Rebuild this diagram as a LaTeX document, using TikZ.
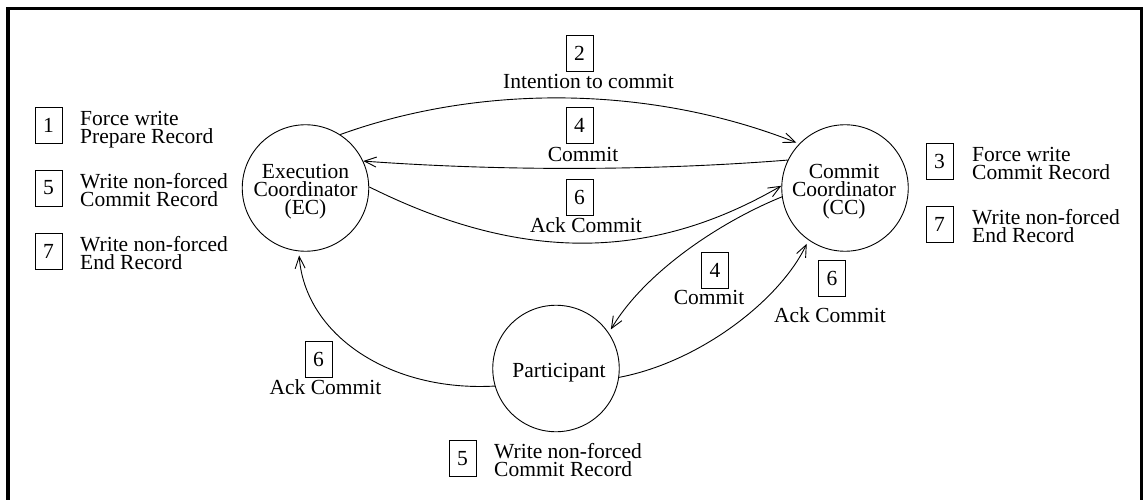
\documentclass[tikz,border=0pt]{standalone}
\usepackage{fontspec}
\setmainfont{Liberation Serif}
\usetikzlibrary{arrows.meta}
% invisible strut fixing the height of a first text line
\newcommand{\capstrut}{\rule{0pt}{15pt}}

\begin{document}
\begin{tikzpicture}[x=1pt, y=-1pt,
  every node/.style={font=\fontsize{21.5}{18}\selectfont},
  state/.style={draw, circle, minimum size=126.5pt, inner sep=0pt, line width=0.9pt},
  statetext/.style={anchor=north, align=center, inner sep=0pt},
  numbox/.style={draw, minimum width=27pt, minimum height=36pt, inner sep=0pt, line width=0.9pt},
  note/.style={anchor=north west, align=left, inner sep=0pt},
  msg/.style={anchor=base, inner sep=0pt},
  flow/.style={line width=0.9pt, -{Straight Barb[length=12pt,width=10pt]}},
]
\useasboundingbox (0,0) rectangle (1144,500);

% outer frame (open at the bottom)
\draw[line width=3.5pt] (8,500) -- (8,8.5) -- (1141.7,8.5) -- (1141.7,500);

% processes
\node[state] (EC) at (305.5,188) {};
\node[statetext] (ECt) at (305.5,163.3) {\capstrut Execution\\Coordinator\\(EC)};
\node[state] (CC) at (845,188) {};
\node[statetext] (CCt) at (844,163.3) {\capstrut Commit\\Coordinator\\(CC)};
\node[state] (P) at (556,368.5) {};
\node[statetext] (Pt) at (559,362) {\capstrut Participant};

% log actions of the execution coordinator
\node[numbox] (n1) at (48.5,125) {1};
\node[note] (t1) at (80,110) {\capstrut Force write\\Prepare Record};
\node[numbox] (n5a) at (48.5,188) {5};
\node[note] (t5a) at (80,173) {\capstrut Write non-forced\\Commit Record};
\node[numbox] (n7a) at (48.5,251) {7};
\node[note] (t7a) at (80,236) {\capstrut Write non-forced\\End Record};

% log actions of the commit coordinator
\node[numbox] (n3) at (939.5,161) {3};
\node[note] (t3) at (972,146) {\capstrut Force write\\Commit Record};
\node[numbox] (n7b) at (939.5,224) {7};
\node[note] (t7b) at (972,209) {\capstrut Write non-forced\\End Record};

% log action of the participant
\node[numbox] (n5b) at (462.5,458.5) {5};
\node[note] (t5b) at (494,443) {\capstrut Write non-forced\\Commit Record};

% messages between the coordinators
\draw[flow, shorten >=3pt] (EC.57) .. controls (480,84) and (650,85) .. (CC.136);
\node[numbox] (m2) at (579.5,53) {2};
\node[msg] (m2t) at (588.5,89) {Intention to commit};

\draw[flow] (CC.154) .. controls (650,171) and (500,171) .. (EC.25);
\node[numbox] (m4a) at (579.5,125) {4};
\node[msg] (m4at) at (583,162) {Commit};

\draw[flow] (EC.1) .. controls (520,262) and (650,262) .. (CC.178);
\node[numbox] (m6a) at (579.5,197) {6};
\node[msg] (m6at) at (586,233) {Ack Commit};

% messages to and from the participant
\draw[flow, shorten >=4pt] (CC.188) .. controls (720,222) and (645,272) .. (P.34);
\node[numbox] (m4b) at (715,270) {4};
\node[msg] (m4bt) at (709,304) {Commit};

\draw[flow, shorten >=4pt] (P.-8) .. controls (700,362) and (780,300) .. (CC.235);
\node[numbox] (m6b) at (832,278) {6};
\node[msg] (m6bt) at (830,322) {Ack Commit};

\draw[flow, shorten >=4pt] (P.196) .. controls (390,392) and (305,335) .. (EC.264);
\node[numbox] (m6c) at (318.5,359) {6};
\node[msg] (m6ct) at (325.5,394) {Ack Commit};
\end{tikzpicture}
\end{document}
